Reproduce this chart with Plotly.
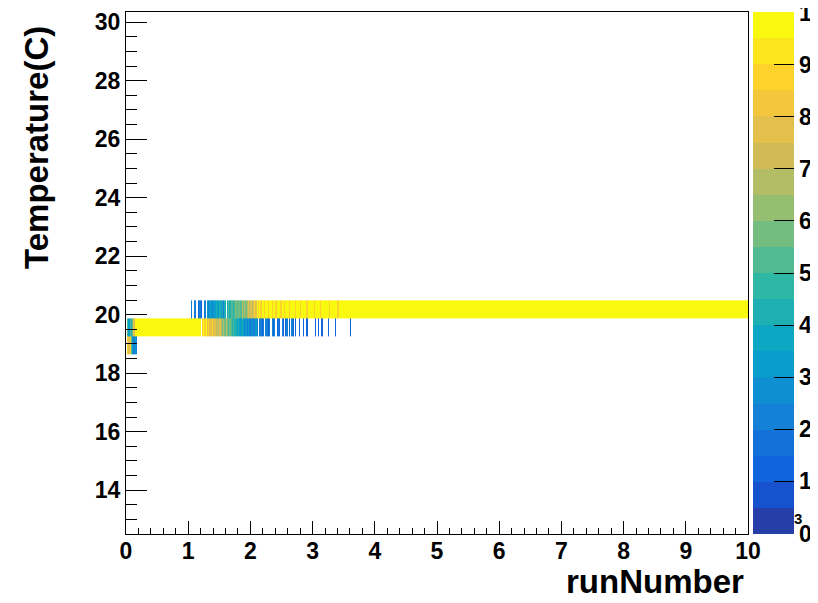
import numpy as np
import plotly.graph_objects as go

# ---------------- data ----------------
BIN = 0.02                      # runNumber bin width (x10^3)
Y_EDGES = [18.64, 19.26, 19.87, 20.49]   # temperature bin edges (rows: C, B, A)

# Row A (top band ~20.2 C)
A_dense_start = 1.04
A_dense = [2, 0, 0, 2, 0, 0, 1, 2, 1, 0, 0, 2, 0, 3, 2, 3, 3, 2, 3, 3, 4, 3, 3, 4, 3, 4, 2, 4, 0, 4,
           5, 4, 5, 5, 4, 5, 6, 5, 6, 6, 5, 7, 6, 7, 6, 7, 8, 7, 8, 7, 8, 9, 8, 10, 9, 10, 9, 10, 10, 9,
           10, 10, 9, 10, 10, 9, 10, 10, 9, 10, 10, 10, 9, 10, 10, 9, 10, 10, 10, 9, 10, 10, 10, 10, 9, 10,
           10, 10, 9, 10, 10, 10, 10, 9, 10, 10, 10, 10, 10, 9, 10, 10, 10, 10, 9, 10, 10, 10, 10, 10, 10,
           9, 10, 10, 10, 10, 10, 10, 9, 10, 10]
A_full_from, A_full_to, A_full_val = 3.44, 10.0, 10

# Row B (middle band ~19.55 C)
B_head_start = 0.02
B_head = [5, 3, 5, 4, 6, 8, 10, 10]
B_full_from, B_full_to, B_full_val = 0.18, 1.20, 10
B_dense_start = 1.22
B_dense = [9, 10, 9, 10, 8, 9, 8, 8, 9, 8, 8, 7, 8, 7, 8, 7, 6, 7, 6, 7, 6, 5, 6, 5, 4, 5, 4, 4, 3, 4,
           3, 3, 4, 3, 2, 3, 2, 3, 2, 2, 3, 2, 2, 3, 2, 0, 2, 2, 1, 2, 0, 2, 2, 1, 2, 0, 2, 1, 2, 0,
           1, 2, 1, 0, 2, 1, 0, 1, 2, 0, 1, 0, 2, 1, 0, 1, 0, 0, 1, 0, 0, 1]
B_sparse_x = [2.90, 3.04, 3.08, 3.14, 3.24, 3.36, 3.60]
B_sparse_v = [1, 1, 1, 1, 1, 1, 1]

# Row C (bottom band ~18.95 C)
C_head_start = 0.02
C_head = [9, 8, 9, 5, 3, 2, 3, 2]

Z_MIN, Z_MAX = 0, 10
N_CONTOURS = 20

# ---------------- build histogram grid ----------------
nx = int(round(10 / BIN))
x_edges = [round(i * BIN, 4) for i in range(nx + 1)]
z = [[None] * nx for _ in range(3)]


def put(row, x, v):
    i = int(round(x / BIN))
    if 0 <= i < nx and v > 0:
        z[row][i] = v


def put_list(row, start, vals):
    for k, v in enumerate(vals):
        put(row, start + k * BIN, v)


def put_run(row, x0, x1, v):
    i0, i1 = int(round(x0 / BIN)), int(round(x1 / BIN))
    for i in range(i0, min(i1, nx)):
        z[row][i] = v


put_list(2, A_dense_start, A_dense)
put_run(2, A_full_from, A_full_to, A_full_val)
put_list(1, B_head_start, B_head)
put_run(1, B_full_from, B_full_to, B_full_val)
put_list(1, B_dense_start, B_dense)
for x, v in zip(B_sparse_x, B_sparse_v):
    put(1, x, v)
put_list(0, C_head_start, C_head)

# ---------------- ROOT kBird palette, 20 contour levels ----------------
stops = [0.0, 0.125, 0.25, 0.375, 0.5, 0.625, 0.75, 0.875, 1.0]
red = [0.2082, 0.0592, 0.0780, 0.0232, 0.1802, 0.5301, 0.8186, 0.9956, 0.9764]
green = [0.1664, 0.3599, 0.5041, 0.6419, 0.7178, 0.7492, 0.7328, 0.7862, 0.9832]
blue = [0.5293, 0.8684, 0.8385, 0.7914, 0.6425, 0.4662, 0.3499, 0.1968, 0.0539]
NCOL = 255
bounds = [int(np.floor(NCOL * s)) for s in stops]
palette = []
for g in range(1, len(stops)):
    n = bounds[g] - bounds[g - 1]
    for c in range(n):
        t = c / n
        r = red[g - 1] + t * (red[g] - red[g - 1])
        gg = green[g - 1] + t * (green[g] - green[g - 1])
        b = blue[g - 1] + t * (blue[g] - blue[g - 1])
        palette.append("rgb(%d,%d,%d)" % (round(r * 255), round(gg * 255), round(b * 255)))

colorscale = []
for i in range(N_CONTOURS):
    j = min(int((i + 0.99) * NCOL / N_CONTOURS), len(palette) - 1)
    col = palette[j]
    colorscale.append([i / N_CONTOURS, col])
    colorscale.append([(i + 1) / N_CONTOURS, col])

# ---------------- figure ----------------
# the page has an 8px body margin, so layout numbers are offset by -8
OFF = 8
L, T = 126 - OFF, 12 - OFF
PW, PH = 622, 522
FONT = "Liberation Sans, Arial, Helvetica, sans-serif"
tickfont = dict(family=FONT, size=23, color="black", weight="bold")

fig = go.Figure(go.Heatmap(
    x=x_edges, y=Y_EDGES, z=z,
    zmin=Z_MIN - 0.01, zmax=Z_MAX + 0.01,
    colorscale=colorscale, zsmooth=False, hoverongaps=False,
    colorbar=dict(
        x=(753 - 126) / PW, xanchor="left", xpad=0, ypad=0,
        y=0.5, yanchor="middle", len=1.0, lenmode="fraction",
        thickness=41, thicknessmode="pixels", outlinewidth=0,
        tickmode="array", tickvals=list(range(Z_MIN, Z_MAX + 1)),
        ticktext=[str(v) for v in range(Z_MIN, Z_MAX + 1)],
        ticks="inside", ticklen=20, tickcolor="black", tickwidth=1,
        tickfont=tickfont, ticklabeloverflow="allow",
    ),
))

fig.update_layout(
    width=818, height=603,
    margin=dict(l=L, r=818 - L - PW, t=T, b=603 - T - PH, autoexpand=False),
    paper_bgcolor="white", plot_bgcolor="white",
    showlegend=False,
    xaxis=dict(range=[0, 10], tick0=0, dtick=1, ticks="inside", ticklen=13,
               tickcolor="black", tickwidth=1, showline=True, linecolor="black",
               linewidth=1, mirror=True, showgrid=False, zeroline=False,
               tickfont=tickfont, ticklabelstandoff=-4,
               minor=dict(dtick=0.2, ticks="inside", ticklen=6, tickcolor="black",
                          showgrid=False)),
    yaxis=dict(range=[12.5, 30.35], tick0=0, dtick=2, ticks="inside", ticklen=21,
               tickcolor="black", tickwidth=1, showline=True, linecolor="black",
               linewidth=1, mirror=True, showgrid=False, zeroline=False,
               tickfont=tickfont,
               minor=dict(dtick=0.5, ticks="inside", ticklen=11, tickcolor="black",
                          showgrid=False)),
    annotations=[
        dict(text="runNumber", xref="paper", yref="paper",
             x=(746 - 126) / PW, y=(534 - 581) / PH, xanchor="right", yanchor="middle",
             showarrow=False, font=dict(family=FONT, size=33, color="black", weight="bold")),
        dict(text="Temperature(C)", xref="paper", yref="paper", textangle=-90,
             x=(37 - 126) / PW, y=(534 - 147) / PH, xanchor="center", yanchor="middle",
             showarrow=False, font=dict(family=FONT, size=33, color="black", weight="bold")),
        dict(text="3", xref="paper", yref="paper",
             x=(798 - 126) / PW, y=(534 - 518) / PH, xanchor="center", yanchor="middle",
             showarrow=False, font=dict(family=FONT, size=15, color="black", weight="bold")),
    ],
)

fig.write_html("out.html")
